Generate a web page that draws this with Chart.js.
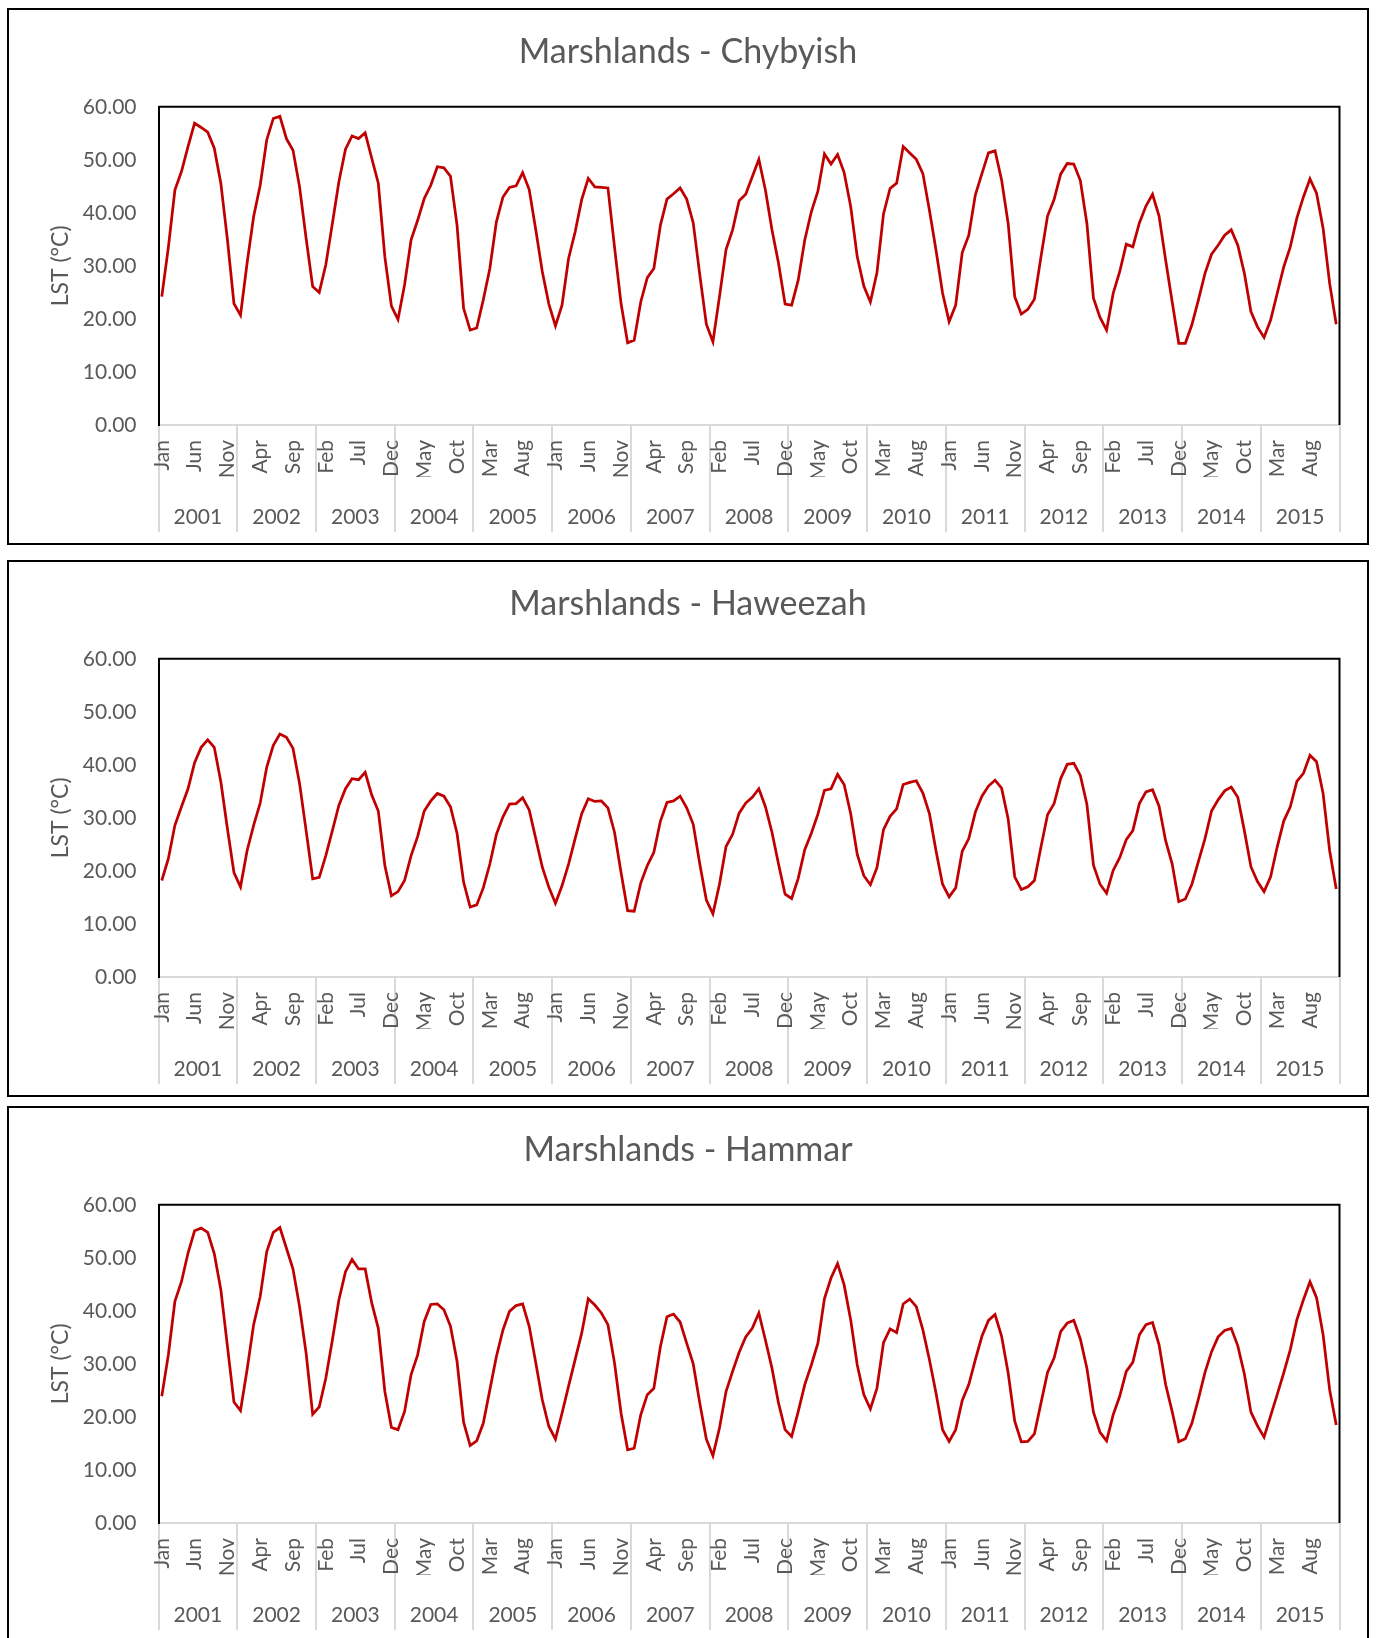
<!DOCTYPE html>
<html>
<head>
<meta charset="utf-8">
<title>Marshlands LST</title>
<style>
  html, body { margin: 0; padding: 0; background: #fff; }
  body { width: 1376px; height: 1638px; position: relative; overflow: hidden; }
  .panel { position: absolute; left: 7px; width: 1362px; height: 537px; border: 2px solid #000; box-sizing: border-box; background: #fff; }
  .panel canvas { display: block; }
</style>
<script src="https://cdn.jsdelivr.net/npm/chart.js@4.4.1/dist/chart.umd.min.js"></script>
</head>
<body>
<div class="panel" style="top:8px"><canvas id="chybyish" width="1358" height="533"></canvas></div>
<div class="panel" style="top:560px"><canvas id="haweezah" width="1358" height="533"></canvas></div>
<div class="panel" style="top:1106px"><canvas id="hammar" width="1358" height="533"></canvas></div>
<script>
// Monthly land surface temperature (°C), Jan 2001 – Dec 2015
const monthNames = ['Jan', 'Feb', 'Mar', 'Apr', 'May', 'Jun', 'Jul', 'Aug', 'Sep', 'Oct', 'Nov', 'Dec'];
const years = ['2001', '2002', '2003', '2004', '2005', '2006', '2007', '2008',
               '2009', '2010', '2011', '2012', '2013', '2014', '2015'];
const yTicks = [0, 10, 20, 30, 40, 50, 60];

const chybyish = [
  24.2, 33.5, 44.3, 47.8, 52.5, 56.9, 56.1, 55.2, 52.2, 45.6, 35.0, 22.9,
  20.7, 30.5, 39.3, 45.2, 53.8, 57.8, 58.2, 54.0, 51.8, 44.9, 35.2, 26.1,
  25.0, 30.2, 38.0, 45.9, 52.0, 54.5, 54.0, 55.1, 50.3, 45.6, 31.7, 22.4,
  19.9, 26.4, 34.9, 38.6, 42.7, 45.2, 48.7, 48.5, 46.9, 37.7, 22.0, 17.9,
  18.3, 23.6, 29.5, 38.3, 43.0, 44.8, 45.1, 47.6, 44.4, 36.8, 28.9, 22.8,
  18.7, 22.6, 31.4, 36.4, 42.5, 46.5, 44.9, 44.8, 44.7, 33.6, 22.9, 15.5,
  16.0, 23.2, 27.8, 29.5, 37.7, 42.6, 43.6, 44.7, 42.6, 38.1, 28.3, 19.0,
  15.7, 24.2, 33.1, 36.8, 42.3, 43.5, 46.8, 50.1, 44.3, 36.8, 30.5, 22.8,
  22.6, 27.3, 34.9, 40.2, 44.1, 51.1, 49.2, 51.0, 47.6, 41.2, 31.7, 26.2,
  23.2, 28.7, 39.8, 44.6, 45.6, 52.5, 51.3, 50.1, 47.4, 40.5, 33.0, 24.9,
  19.5, 22.6, 32.5, 35.8, 43.4, 47.4, 51.3, 51.7, 46.2, 38.0, 24.2, 20.9,
  21.8, 23.7, 31.7, 39.4, 42.5, 47.3, 49.3, 49.2, 46.1, 38.0, 23.9, 20.3,
  17.9, 24.8, 28.9, 34.1, 33.6, 38.1, 41.3, 43.5, 39.4, 31.1, 23.2, 15.4,
  15.4, 18.9, 23.6, 28.6, 32.2, 33.9, 35.8, 36.8, 33.9, 28.6, 21.4, 18.5,
  16.5, 19.8, 24.8, 29.8, 33.6, 39.0, 43.0, 46.4, 43.7, 37.1, 26.7, 19.0
];

const haweezah = [
  18.2, 22.3, 28.6, 32.1, 35.5, 40.4, 43.3, 44.7, 43.3, 36.8, 28.0, 19.7,
  17.0, 23.8, 28.6, 32.8, 39.6, 43.7, 45.8, 45.2, 43.1, 36.5, 27.6, 18.5,
  18.8, 22.9, 27.6, 32.4, 35.5, 37.4, 37.2, 38.6, 34.3, 31.3, 21.0, 15.3,
  16.1, 18.2, 22.9, 26.5, 31.3, 33.2, 34.6, 34.1, 32.1, 27.1, 17.9, 13.2,
  13.6, 16.8, 21.3, 26.9, 30.2, 32.6, 32.7, 33.8, 31.5, 26.1, 20.7, 16.9,
  13.9, 17.2, 21.3, 26.1, 30.8, 33.6, 33.1, 33.2, 31.9, 27.3, 19.7, 12.5,
  12.4, 17.7, 21.0, 23.5, 29.4, 32.9, 33.2, 34.1, 31.9, 28.8, 21.3, 14.5,
  11.9, 17.5, 24.6, 26.9, 30.9, 32.8, 33.9, 35.5, 32.1, 27.3, 21.3, 15.6,
  14.8, 18.6, 24.0, 27.1, 30.7, 35.2, 35.5, 38.2, 36.3, 30.8, 23.1, 19.1,
  17.4, 20.6, 27.8, 30.3, 31.7, 36.3, 36.7, 37.0, 34.7, 30.8, 23.8, 17.5,
  15.1, 16.8, 23.7, 26.1, 31.1, 34.1, 36.0, 37.1, 35.6, 29.8, 18.9, 16.5,
  17.0, 18.2, 24.5, 30.6, 32.7, 37.4, 40.1, 40.3, 38.0, 32.6, 21.1, 17.5,
  15.8, 20.1, 22.5, 25.9, 27.6, 32.7, 34.9, 35.3, 32.2, 25.7, 21.3, 14.2,
  14.7, 17.5, 21.8, 26.1, 31.3, 33.4, 35.1, 35.8, 33.9, 27.6, 20.8, 18.0,
  16.1, 18.9, 24.5, 29.4, 32.1, 36.9, 38.4, 41.8, 40.6, 34.6, 23.8, 16.6
];

const hammar = [
  23.9, 31.7, 41.8, 45.5, 50.9, 55.1, 55.6, 54.8, 50.8, 44.0, 33.4, 22.8,
  21.2, 28.9, 37.4, 42.7, 51.2, 54.8, 55.7, 51.8, 47.9, 40.8, 32.0, 20.5,
  21.9, 27.3, 34.5, 42.1, 47.4, 49.7, 47.9, 47.9, 41.5, 36.7, 24.8, 18.0,
  17.6, 21.0, 28.0, 31.7, 38.0, 41.2, 41.3, 40.2, 37.1, 30.5, 19.0, 14.6,
  15.5, 18.8, 25.1, 31.4, 36.4, 39.9, 41.0, 41.3, 37.1, 30.2, 23.2, 18.2,
  15.8, 20.7, 25.8, 30.8, 35.8, 42.3, 41.1, 39.6, 37.4, 30.2, 20.7, 13.8,
  14.1, 20.4, 24.2, 25.4, 33.3, 38.9, 39.4, 37.9, 33.9, 30.0, 22.6, 15.8,
  12.7, 17.9, 24.8, 28.6, 32.2, 35.1, 36.7, 39.6, 34.5, 29.2, 22.6, 17.6,
  16.3, 21.0, 26.1, 29.8, 33.9, 42.3, 46.2, 48.9, 44.9, 38.3, 29.8, 24.2,
  21.5, 25.4, 34.0, 36.6, 35.9, 41.3, 42.2, 40.8, 36.4, 30.8, 24.5, 17.6,
  15.4, 17.6, 23.1, 26.1, 30.8, 35.2, 38.2, 39.3, 35.2, 28.3, 19.2, 15.3,
  15.4, 16.8, 22.6, 28.4, 31.1, 36.1, 37.7, 38.2, 34.7, 29.2, 20.9, 17.1,
  15.5, 20.4, 23.9, 28.6, 30.3, 35.5, 37.4, 37.8, 33.6, 26.1, 21.0, 15.3,
  15.9, 18.8, 23.4, 28.4, 32.3, 35.1, 36.3, 36.7, 33.4, 28.1, 20.9, 18.3,
  16.2, 20.2, 24.2, 28.3, 32.7, 38.3, 42.1, 45.5, 42.5, 35.5, 25.1, 18.5
];

// one category per month, labelled by month name
const monthLabels = years.flatMap(() => monthNames);

const TEXT = '#595959';
const FONT = 'Lato, "Open Sans", sans-serif';

// Grey year dividers under the axis, painted before the axes so labels sit on top
const yearDividers = {
  id: 'yearDividers',
  beforeDraw(chart) {
    const { ctx, chartArea: a, scales: { x, x2 } } = chart;
    const step = x.getPixelForValue(1) - x.getPixelForValue(0);
    ctx.save();
    ctx.strokeStyle = '#d9d9d9';
    ctx.lineWidth = 2;
    for (let k = 0; k <= years.length; k++) {
      const px = Math.round(x.getPixelForValue(k * 12) - step / 2);
      ctx.beginPath();
      ctx.moveTo(px, a.bottom);
      ctx.lineTo(px, x2.bottom);
      ctx.stroke();
    }
    ctx.restore();
  }
};

// Top and right edges of the plot-area frame
const plotFrame = {
  id: 'plotFrame',
  afterDraw(chart) {
    const { ctx, chartArea: a } = chart;
    ctx.save();
    ctx.strokeStyle = '#000';
    ctx.lineWidth = 2;
    ctx.beginPath();
    ctx.moveTo(a.left, a.top);
    ctx.lineTo(a.right, a.top);
    ctx.lineTo(a.right, a.bottom);
    ctx.stroke();
    ctx.restore();
  }
};

function makeChart(id, title, values) {
  return new Chart(document.getElementById(id), {
    type: 'line',
    data: {
      labels: monthLabels,
      datasets: [{
        label: title,
        data: values,
        borderColor: '#C00000',
        borderWidth: 2.75,
        pointRadius: 0,
        pointHoverRadius: 0,
        tension: 0,
        fill: false
      }]
    },
    options: {
      responsive: false,
      animation: false,
      devicePixelRatio: 1,
      layout: { padding: { left: 0, right: 0, top: 0, bottom: 11 } },
      plugins: {
        legend: { display: false },
        tooltip: { enabled: false },
        title: {
          display: true,
          text: title,
          color: TEXT,
          font: { family: FONT, size: 34, weight: 'normal' },
          padding: { top: 22, bottom: 34 }
        }
      },
      scales: {
        x: {
          type: 'category',
          offset: true,
          grid: { display: false, drawTicks: false },
          border: { display: true, color: '#d9d9d9', width: 2 },
          ticks: {
            autoSkip: false,
            minRotation: 90,
            maxRotation: 90,
            padding: 15,
            color: TEXT,
            font: { family: FONT, size: 21 },
            callback(value, index) {
              return index % 5 === 0 ? this.getLabelForValue(value) : '';
            }
          },
          afterFit(scale) {
            scale.height = 52;
            scale.paddingLeft = 0;
            scale.paddingRight = 27.5;
          }
        },
        x2: {
          type: 'category',
          labels: years,
          position: 'bottom',
          offset: true,
          grid: { display: false, drawTicks: false },
          border: { display: false },
          ticks: {
            autoSkip: false,
            minRotation: 0,
            maxRotation: 0,
            padding: 28,
            color: TEXT,
            font: { family: FONT, size: 21 }
          },
          afterFit(scale) {
            scale.height = 55;
            scale.paddingLeft = 0;
            scale.paddingRight = 0;
          }
        },
        y: {
          min: yTicks[0],
          max: yTicks[yTicks.length - 1],
          grid: { display: false, drawTicks: false },
          border: { display: true, color: '#000', width: 2 },
          ticks: {
            stepSize: 10,
            padding: 22,
            color: TEXT,
            font: { family: FONT, size: 21 },
            callback: (v) => Number(v).toFixed(2)
          },
          title: {
            display: true,
            text: 'LST (°C)',
            color: TEXT,
            font: { family: FONT, size: 23 },
            padding: { top: 38, bottom: 0 }
          },
          afterFit(scale) { scale.width = 149.5; }
        }
      }
    },
    plugins: [yearDividers, plotFrame]
  });
}

makeChart('chybyish', 'Marshlands - Chybyish', chybyish);
makeChart('haweezah', 'Marshlands - Haweezah', haweezah);
makeChart('hammar', 'Marshlands - Hammar', hammar);
</script>
</body>
</html>
